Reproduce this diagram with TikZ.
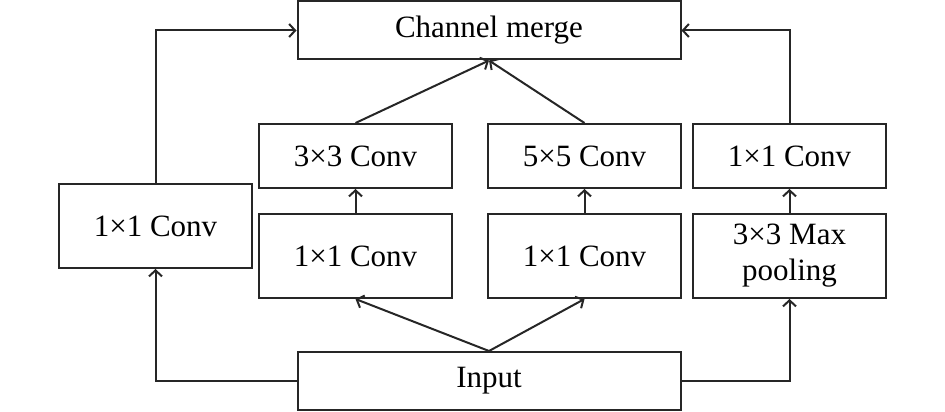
\documentclass[tikz,border=0pt]{standalone}
\usepackage{fontspec}
\setmainfont{Liberation Serif}
\usetikzlibrary{arrows.meta}
\begin{document}
\begin{tikzpicture}[x=1pt,y=1pt,
  box/.style={draw=black!85,line width=2pt,rectangle,inner sep=0pt,
    minimum width=193pt,minimum height=64pt,align=center,
    font=\fontsize{31}{36}\selectfont,text=black},
  tall/.style={minimum height=84pt},
  wide/.style={minimum width=383pt,minimum height=58pt},
  conn/.style={draw=black!85,line width=2pt,-{Straight Barb[length=6pt,width=13pt,line width=2pt]}}
]
\useasboundingbox (0,0) rectangle (945,-412);
\node[box,wide] (merge) at (489,-30.5) {Channel merge};
\node[box] (c3) at (355.5,-156) {3×3 Conv};
\node[box] (c5) at (584.5,-156) {5×5 Conv};
\node[box] (r1) at (789.5,-156) {1×1 Conv};
\node[box,tall] (l1) at (155.5,-226) {1×1 Conv};
\node[box,tall] (m1) at (355.5,-256) {1×1 Conv};
\node[box,tall] (m2) at (584.5,-256) {1×1 Conv};
\node[box,tall] (mp) at (789.5,-256) {3×3 Max\\pooling};
\node[box,wide] (in) at (489,-381) {Input};
\draw[conn] (in.west) -| (l1.south);
\draw[conn] (l1.north) |- (merge.west);
\draw[conn] (in.east) -| (mp.south);
\draw[conn] (r1.north) |- (merge.east);
\draw[conn] (in.north) -- (m1.south);
\draw[conn] (in.north) -- (m2.south);
\draw[conn] (m1.north) -- (c3.south);
\draw[conn] (m2.north) -- (c5.south);
\draw[conn] (mp.north) -- (r1.south);
\draw[conn] (c3.north) -- (merge.south);
\draw[conn] (c5.north) -- (merge.south);
\end{tikzpicture}
\end{document}
